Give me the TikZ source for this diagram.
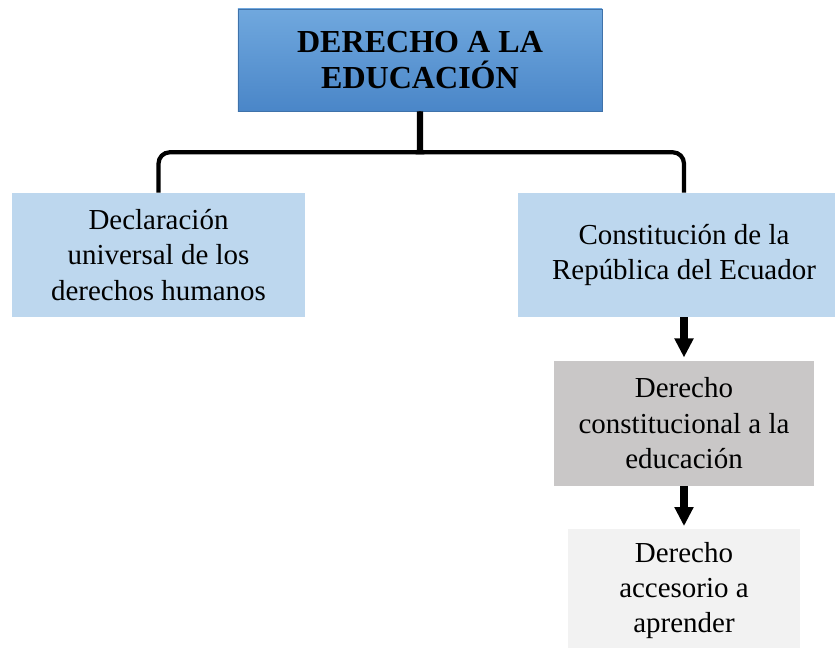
\documentclass[tikz,border=0pt]{standalone}
\usepackage{fontspec}
\setmainfont{Liberation Serif}
\usetikzlibrary{positioning, arrows.meta, calc}
\definecolor{azulclaro}{HTML}{BDD7EE}
\definecolor{azularriba}{HTML}{70A8DE}
\definecolor{azulabajo}{HTML}{4A86C8}
\definecolor{grismedio}{HTML}{C9C7C7}
\definecolor{grisclaro}{HTML}{F2F2F2}
\tikzset{
  titulo/.style={rectangle, minimum width=9.1cm, minimum height=2.55cm, text centered, align=center, draw=azulabajo!85!black, top color=azularriba, bottom color=azulabajo, font=\bfseries\fontsize{22.8}{26.2}\selectfont},
  fuente/.style={rectangle, minimum height=3.1cm, text centered, align=center, fill=azulclaro, font=\fontsize{20.6}{25}\selectfont},
  derecho/.style={rectangle, minimum width=6.5cm, minimum height=3.125cm, text centered, align=center, fill=grismedio, font=\fontsize{20.6}{25}\selectfont},
  accesorio/.style={rectangle, minimum width=5.8cm, minimum height=3.05cm, text centered, align=center, fill=grisclaro, font=\fontsize{20.6}{25}\selectfont},
  flecha/.style={line width=5pt, -{Triangle[width=0.45cm, length=0.475cm]}, shorten >=2pt},
  llave/.style={line width=3pt}
}

\begin{document}
\begin{tikzpicture}[
        x=0.025cm, y=0.025cm,
        node distance=1.075cm % <-- separacion entre cajas de la derecha
    ]
        \useasboundingbox (0,0) rectangle (835,647);

        \node (educacion) [titulo] at (420,587) {DERECHO A LA\\ EDUCACIÓN};
        \node (declaracion) [fuente, minimum width=7.325cm] at (158.5,392) {Declaración\\ universal de los\\ derechos humanos};
        \node (constitucion) [fuente, minimum width=8.3cm] at (684,392) {Constitución de la\\ República del Ecuador};
        \node (constitucional) [derecho, below=of constitucion] {Derecho\\ constitucional a la\\ educación};
        \node (aprender) [accesorio, below=of constitucional] {Derecho\\ accesorio a\\ aprender};

        % llave
        \coordinate (cruce) at ($(educacion.south)+(0,-41)$);
        \draw [llave, rounded corners=8] (declaracion.north) -- (declaracion.north |- cruce) -- ($(cruce)+(-7,0)$) .. controls ($(cruce)+(-1,0)$) and ($(cruce)+(-1,4)$) .. ($(cruce)+(-1,12)$) -- ($(educacion.south)+(-1,0)$);
        \draw [llave, rounded corners=8] (constitucion.north) -- (constitucion.north |- cruce) -- ($(cruce)+(7,0)$) .. controls ($(cruce)+(1,0)$) and ($(cruce)+(1,4)$) .. ($(cruce)+(1,12)$) -- ($(educacion.south)+(1,0)$);

        \draw [flecha] (constitucion) -- (constitucional);
        \draw [flecha] (constitucional) -- (aprender);
    \end{tikzpicture}
\end{document}
